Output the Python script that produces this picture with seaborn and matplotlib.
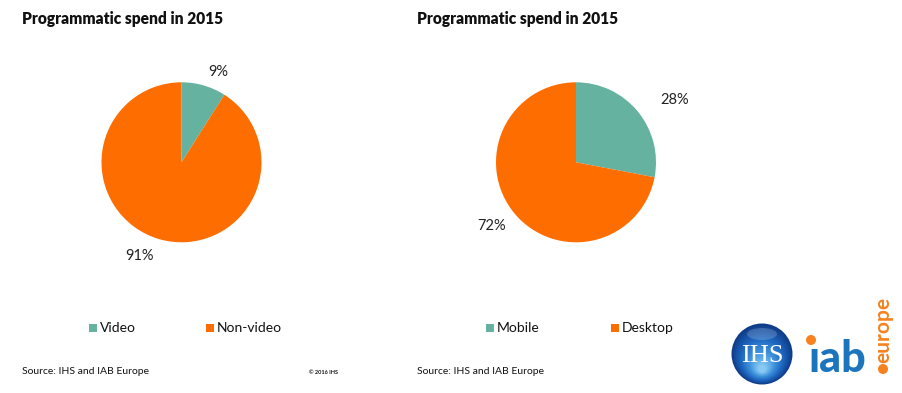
import numpy as np
import matplotlib
matplotlib.use("Agg")
import matplotlib.pyplot as plt
from matplotlib.patches import Circle, Ellipse, Rectangle
import seaborn as sns

# data
title = "Programmatic spend in 2015"
left_labels = ["Video", "Non-video"]
left_values = [9, 91]
right_labels = ["Mobile", "Desktop"]
right_values = [28, 72]
source_text = "Source: IHS and IAB Europe"
copyright_text = "\u00a9 2016 IHS"

TEAL = "#66b2a0"
ORANGE = "#fe6d00"
IAB_BLUE = "#1c75bc"
IAB_ORANGE = "#f5821f"

W, H = 903, 393

# label offsets (in pie radii) for the percentage texts
LEFT_LABEL_POS = [(0.46, 1.13), (-0.52, -1.17)]
RIGHT_LABEL_POS = [(1.23, 0.78), (-1.05, -0.80)]

sns.set_style("white")
plt.rcParams["font.family"] = ["Lato", "DejaVu Sans"]


def fig_box(x0, y0, x1, y1):
    # pixel box (top-left origin) -> figure fraction rect
    return [x0 / W, 1 - y1 / H, (x1 - x0) / W, (y1 - y0) / H]


def draw_pie(fig, cx, cy, r, values, label_pos):
    ax = fig.add_axes(fig_box(cx - r, cy - r, cx + r, cy + r))
    wedges, _, autotexts = ax.pie(
        values,
        colors=[TEAL, ORANGE],
        startangle=90,
        counterclock=False,
        autopct="%d%%",
        wedgeprops={"linewidth": 0},
        textprops={"fontsize": 10.5, "color": "#222222"},
    )
    for t, pos in zip(autotexts, label_pos):
        t.set_position(pos)
    ax.set_xlim(-1, 1)
    ax.set_ylim(-1, 1)
    ax.set_aspect("auto")
    ax.axis("off")
    return ax


fig = plt.figure(figsize=(W / 100, H / 100), dpi=100)
fig.patch.set_facecolor("white")

draw_pie(fig, 181.5, 162.3, 80, left_values, LEFT_LABEL_POS)
draw_pie(fig, 576, 162.3, 80, right_values, RIGHT_LABEL_POS)

# overlay in pixel coordinates for text, legends and logos
ov = fig.add_axes([0, 0, 1, 1], facecolor="none")
ov.set_xlim(0, W)
ov.set_ylim(H, 0)
ov.axis("off")

for x in (22, 417):
    ov.text(x, 19, title, fontsize=11.2, fontweight="heavy",
            va="center", ha="left", color="#111111")
    ov.text(x, 371, source_text, fontsize=7.5,
            va="center", ha="left", color="#111111")
ov.text(309, 373, copyright_text, fontsize=4, fontweight="bold",
        va="center", ha="left", color="#111111")


def draw_legend(labels, xs, y):
    for lab, col, x in zip(labels, [TEAL, ORANGE], xs):
        ov.add_patch(Rectangle((x, y - 4), 8, 8, color=col, lw=0))
        ov.text(x + 11, y, lab, fontsize=10, va="center", ha="left",
                color="#111111")


draw_legend(left_labels, [89, 206], 328)
draw_legend(right_labels, [486, 611], 328)

# IHS logo: soft glossy sphere
cx, cy, r0 = 762, 354, 30.5
n = 24
shades = sns.blend_palette(["#0f3c88", "#1d66c0", "#3f93dc", "#86c9f2"], n)
for rr, c in zip(np.linspace(r0, 4, n), shades):
    ov.add_patch(Circle((cx, cy + (r0 - rr) * 0.55), rr, color=c, lw=0))
ov.add_patch(Ellipse((cx, cy - 20), 30, 12, color="white", alpha=0.18, lw=0))
ov.text(cx, cy + 2, "IHS", color="white", fontsize=19, family="Liberation Serif",
        ha="center", va="center")

# iab europe logo
ov.text(837, 372, "\u0131ab", color=IAB_BLUE, fontsize=31, fontweight="black",
        ha="center", va="baseline")
ov.add_patch(Circle((811, 340), 5, color=IAB_ORANGE, lw=0))
ov.text(883, 330, "europe", color=IAB_ORANGE, fontsize=15, fontweight="bold",
        rotation=90, ha="center", va="center")
ov.add_patch(Circle((883, 369), 5, color=IAB_ORANGE, lw=0))

fig.savefig("out.png", dpi=100)
